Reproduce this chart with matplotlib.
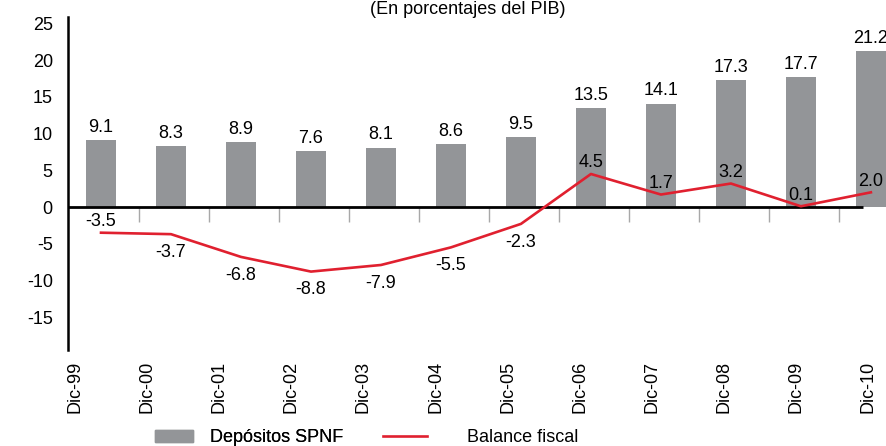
import numpy as np
import matplotlib
matplotlib.use("Agg")
import matplotlib.pyplot as plt
from matplotlib.patches import Patch
from matplotlib.lines import Line2D

plt.rcParams['font.family'] = ['Liberation Sans', 'DejaVu Sans']
plt.rcParams['axes.unicode_minus'] = False

periodos = ['Dic-99', 'Dic-00', 'Dic-01', 'Dic-02', 'Dic-03', 'Dic-04',
            'Dic-05', 'Dic-06', 'Dic-07', 'Dic-08', 'Dic-09', 'Dic-10']
depositos = [9.1, 8.3, 8.9, 7.6, 8.1, 8.6, 9.5, 13.5, 14.1, 17.3, 17.7, 21.2]
balance = [-3.5, -3.7, -6.8, -8.8, -7.9, -5.5, -2.3, 4.5, 1.7, 3.2, 0.1, 2.0]

BAR_COL = '#939598'
LINE_COL = '#e0202f'
FS = 13

fig = plt.figure(figsize=(8.87, 4.46), dpi=100)
ax = fig.add_axes([0.0767, 0.215, 0.9233, 0.747])

x = np.arange(len(periodos))
ax.bar(x, depositos, width=0.43, color=BAR_COL, zorder=2)
ax.plot(x, balance, color=LINE_COL, lw=1.9, zorder=4)

# zero line and small grey separators
ax.plot([-0.471, 10.89], [0, 0], color='black', lw=2.0, zorder=3, solid_capstyle='butt')
ax.vlines(x[1:] - 0.45, -2.0, 0, color='#a8a8a8', lw=1, zorder=1)

# labels on bars
for xi, v in zip(x, depositos):
    ax.annotate('%.1f' % v, (xi, v), xytext=(0, 3), textcoords='offset points',
                ha='center', va='bottom', fontsize=FS)

# labels on line (below for the deficit years, above otherwise)
for i, (xi, v) in enumerate(zip(x, balance)):
    if 1 <= i <= 6:
        ax.annotate('%.1f' % v, (xi, v), xytext=(0, -7), textcoords='offset points',
                    ha='center', va='top', fontsize=FS)
    else:
        ax.annotate('%.1f' % v, (xi, v), xytext=(0, 2), textcoords='offset points',
                    ha='center', va='bottom', fontsize=FS)

ax.set_xlim(-0.471, 11.23)
ax.set_ylim(-19.5, 25.9)
ax.set_yticks([-15, -10, -5, 0, 5, 10, 15, 20, 25])
ax.tick_params(axis='y', length=0, pad=11, labelsize=FS)

tick_pos = np.linspace(-0.37, 10.96, len(periodos))
ax.set_xticks(tick_pos)
ax.set_xticklabels(periodos, rotation=90, fontsize=FS)
ax.tick_params(axis='x', length=0, pad=8)

for s in ['top', 'right', 'bottom']:
    ax.spines[s].set_visible(False)
ax.spines['left'].set_linewidth(1.8)
ax.spines['left'].set_color('black')

fig.text(0.527, 0.978, '(En porcentajes del PIB)', ha='center', va='center', fontsize=FS)

# legend, two separate entries to match the uneven spacing
leg1 = fig.legend(handles=[Patch(color=BAR_COL, label='Depósitos SPNF')],
                  loc='center left', bbox_to_anchor=(155 / 887, 0.018),
                  frameon=False, fontsize=FS, handlelength=2.1, handleheight=0.6,
                  handletextpad=0.95, borderpad=0, borderaxespad=0)
leg2 = fig.legend(handles=[Line2D([], [], color=LINE_COL, lw=1.9, label='Balance fiscal')],
                  loc='center left', bbox_to_anchor=(383 / 887, 0.018),
                  frameon=False, fontsize=FS, handlelength=2.45,
                  handletextpad=2.2, borderpad=0, borderaxespad=0)
fig.add_artist(leg1)

fig.savefig('out.png', dpi=100)
